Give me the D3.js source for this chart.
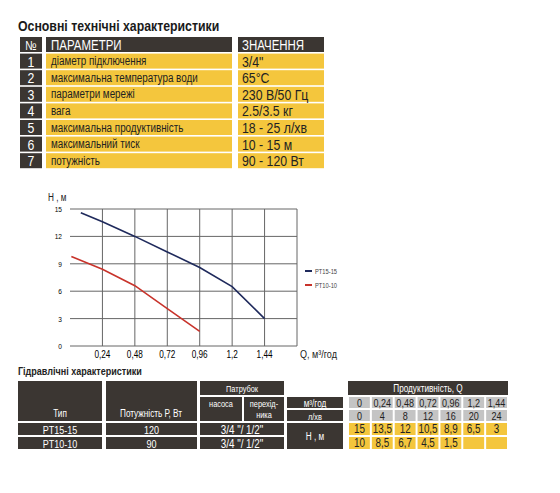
<!DOCTYPE html><html><head><meta charset="utf-8">
<script src="https://cdn.jsdelivr.net/npm/d3@7"></script>
<style>body{margin:0;background:#fff}text{font-family:"Liberation Sans","Arimo",sans-serif}</style></head><body>
<svg id="c" width="560" height="493"></svg>
<script>
const paramNames=["діаметр підключення","максимальна температура води","параметри мережі","вага","максимальна продуктивність","максимальний тиск","потужність"];
const paramValues=["3/4\"","65°C","230 В/50 Гц","2.5/3.5 кг","18 - 25 л/хв","10 - 15 м","90 - 120 Вт"];
const xTicks=[0.24,0.48,0.72,0.96,1.2,1.44];
const xTickLabels=["0,24","0,48","0,72","0,96","1,2","1,44"];
const yTicks=[0,3,6,9,12,15];
const seriesNames=["PT15-15","PT10-10"];
const seriesColors=["#1f2a5c","#c8332b"];
const pt15Q=[0.08,0.24,0.48,0.72,0.96,1.2,1.44];
const pt15H=[14.6,13.6,12,10.3,8.6,6.5,3];
const pt10Q=[0.01,0.24,0.48,0.72,0.96];
const pt10H=[9.8,8.4,6.6,4.1,1.6];
const tblQ=["0","0,24","0,48","0,72","0,96","1,2","1,44"];
const tblL=["0","4","8","12","16","20","24"];
const tblH15=["15","13,5","12","10,5","8,9","6,5","3"];
const tblH10=["10","8,5","6,7","4,5","1,5","",""];
const types=["PT15-15","PT10-10"], powers=["120","90"], pipes=["3/4 \"/ 1/2\"","3/4 \"/ 1/2\""];

const svg=d3.select("#c"), DK="#3b3632", YL="#f4c63d", GR="#c4c4c4";
function rect(x,y,w,h,f){svg.append("rect").attr("x",x).attr("y",y).attr("width",w).attr("height",h).attr("fill",f);}
function txt(x,y,s,o={}){return svg.append("text").attr("x",x).attr("y",y).text(s).attr("font-size",o.fs||12).attr("fill",o.c||"#222").attr("text-anchor",o.a||"start").attr("font-weight",o.w||"normal");}
txt(18,31,"Основні технічні характеристики",{fs:15,w:"bold",c:"#1a1a1a"});
const rowY=i=>37+i*16.6;
rect(20,rowY(0),22,15,DK);rect(46,rowY(0),186,15,DK);rect(238,rowY(0),86,15,DK);
txt(31,rowY(0)+12.5,"№",{c:"#fff",a:"middle",fs:13});txt(51,rowY(0)+12.5,"ПАРАМЕТРИ",{c:"#fff",fs:14});txt(242,rowY(0)+12.5,"ЗНАЧЕННЯ",{c:"#fff",fs:14});
paramNames.forEach((p,i)=>{const y=rowY(i+1);rect(20,y,22,15,DK);rect(46,y,186,15,YL);rect(238,y,86,15,YL);
txt(31,y+13,String(i+1),{c:"#fff",a:"middle",fs:15});txt(51,y+11.5,p,{fs:12});txt(242,y+13,paramValues[i],{fs:15});});
const x=d3.scaleLinear().domain([0,1.68]).range([70,297]);
const y=d3.scaleLinear().domain([0,15]).range([346,209]);
const g=svg.append("g");
g.selectAll(".v").data(xTicks.concat([1.68])).join("line").attr("x1",d=>x(d)).attr("x2",d=>x(d)).attr("y1",y(0)).attr("y2",y(15)).attr("stroke","#666").attr("stroke-width",1);
g.selectAll(".h").data(yTicks).join("line").attr("x1",x(0)).attr("x2",x(1.68)).attr("y1",d=>y(d)).attr("y2",d=>y(d)).attr("stroke","#666");
g.selectAll(".yl").data(yTicks).join("text").attr("x",62).attr("y",d=>y(d)+3).attr("text-anchor","end").attr("font-size",8).text(d=>d);
g.selectAll(".xl").data(xTicks).join("text").attr("x",d=>x(d)).attr("y",358).attr("text-anchor","middle").attr("font-size",10).text((d,i)=>xTickLabels[i]);
txt(48,201,"Н , м",{fs:10});
txt(300,358,"Q, м³/год",{fs:11});
const line=d3.line().x(d=>x(d[0])).y(d=>y(d[1]));
[[pt15Q,pt15H],[pt10Q,pt10H]].forEach((s,k)=>{
 g.append("path").attr("d",line(s[0].map((q,i)=>[q,s[1][i]]))).attr("fill","none").attr("stroke",seriesColors[k]).attr("stroke-width",1.6);
 g.append("line").attr("x1",305).attr("x2",312).attr("y1",271+k*14).attr("y2",271+k*14).attr("stroke",seriesColors[k]).attr("stroke-width",2);
 txt(315,274+k*14,seriesNames[k],{fs:7,c:"#444"});
});
txt(18,375,"Гідравлічні характеристики",{fs:11,w:"bold"});
function cell(x0,y0,w,h,f,s,o={}){rect(x0,y0,w,h,f);if(s!=="")txt(x0+w/2,y0+h/2+(o.dy||4),s,Object.assign({a:"middle",c:f===DK?"#fff":"#222",fs:11},o));}
cell(18,381,84,40,DK,"");txt(60,417,"Тип",{c:"#fff",a:"middle",fs:10});
cell(106,381,91,40,DK,"");txt(151,417,"Потужність Р, Вт",{c:"#fff",a:"middle",fs:10});
cell(200,381,84,14,DK,"Патрубок",{fs:9});
cell(200,397,42,24,DK,"");txt(221,407,"насоса",{c:"#fff",a:"middle",fs:9});
cell(244,397,40,24,DK,"");txt(264,407,"перехід-",{c:"#fff",a:"middle",fs:9});txt(264,418,"ника",{c:"#fff",a:"middle",fs:9});
cell(287,397,56,11,DK,"м³/год",{fs:10});cell(287,410,56,11,DK,"л/хв",{fs:9});
cell(348,381,160,14,DK,"Продуктивність, Q",{fs:10});
types.forEach((t,i)=>{const yy=423+i*14;cell(18,yy,84,12,DK,t,{dy:4.5});cell(106,yy,91,12,DK,powers[i],{dy:4.5});cell(200,yy,84,12,DK,pipes[i],{dy:4.5,fs:12});});
cell(287,423,56,26,DK,"Н , м",{fs:10});
const cw=160/7;
tblQ.forEach((v,i)=>{const xx=348+i*cw;cell(xx+1,397,cw-2,11,GR,v,{fs:11});cell(xx+1,410,cw-2,11,GR,tblL[i],{fs:11});
cell(xx+1,423,cw-2,12,YL,tblH15[i],{fs:12});cell(xx+1,437,cw-2,12,YL,tblH10[i],{fs:12});});
// condense all text like the narrow original typeface
svg.selectAll("text").each(function(){const w=this.getComputedTextLength();if(w>0){d3.select(this).attr("textLength",w*0.82).attr("lengthAdjust","spacingAndGlyphs");}});
</script></body></html>
